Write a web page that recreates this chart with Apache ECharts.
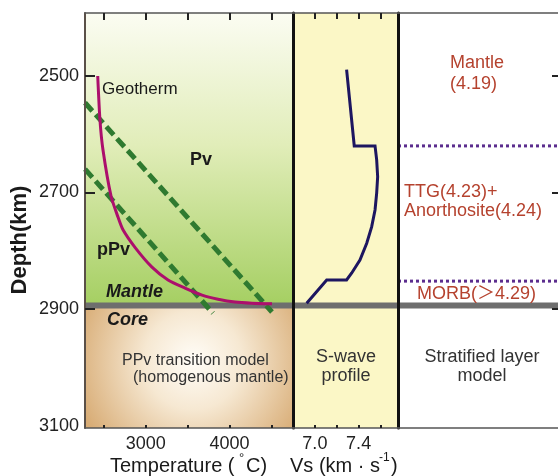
<!DOCTYPE html>
<html>
<head>
<meta charset="utf-8">
<script src="https://cdn.jsdelivr.net/npm/echarts@6/dist/echarts.min.js"></script>
<style>html,body{margin:0;padding:0;background:#fff}#c{width:558px;height:476px}</style>
</head>
<body>
<div id="c"></div>
<script>
// ---- data ----
const tempTicks = [2500, 3000, 3500, 4000, 4500];
const tempLabels = [3000, 4000];
const vsTicks = [7.0, 7.2, 7.4, 7.6];
const vsLabels = [7.0, 7.4];
const depthLabels = [2500, 2700, 2900, 3100];
const depthTickMarks = [2500, 2700, 2900];
const rightTickMarks = [2500, 2700, 2900];

const geothermTemp  = [2425, 2452, 2488, 2584, 2667, 2727, 2870, 3073, 3265, 3468, 3671, 3862, 4065, 4268, 4507];
const geothermDepth = [2500, 2576, 2627, 2706, 2742, 2764, 2794, 2828, 2850, 2864, 2876, 2883, 2888, 2890, 2891];

const pvBoundaryTemp  = [2273, 4507];
const pvBoundaryDepth = [2546, 2905];
const ppvBoundaryTemp  = [2273, 3802];
const ppvBoundaryDepth = [2660, 2907];

const vsValue = [7.29, 7.36, 7.55, 7.565, 7.574, 7.565, 7.55, 7.519, 7.474, 7.412, 7.337, 7.29, 7.108, 6.925];
const vsDepth = [2489, 2620, 2620, 2644, 2673, 2701, 2730, 2759, 2787, 2816, 2838, 2850, 2850, 2890];

const cmbDepth = 2894;
const layerBoundaries = [2620, 2852];

// ---- view ranges ----
const depthMin = 2392, depthMax = 3104;
const tempMin = 2273, tempMax = 4758;
const vsMin = 6.8, vsMax = 7.76;

const FF = 'Liberation Sans, Arial, "Noto Sans CJK SC", sans-serif';
const zip = (a, b) => a.map((v, i) => [v, b[i]]);

const chart = echarts.init(document.getElementById('c'), null, {renderer: 'canvas'});

function xAx(grid, min, max, pos, tickVals, labelVals, tickLen) {
  return {
    gridIndex: grid, type: 'value', min: min, max: max, position: pos, z: 10,
    axisLine: {show: true, onZero: false, lineStyle: {color: '#555', width: 1.5}},
    axisTick: tickVals ? {show: true, inside: true, length: tickLen, customValues: tickVals, lineStyle: {color: '#222', width: 2}} : {show: false},
    axisLabel: labelVals ? {show: true, customValues: labelVals, fontSize: 18, color: '#222', margin: 7, fontFamily: FF,
      formatter: v => (Math.abs(v) < 100 ? v.toFixed(1) : String(v))} : {show: false},
    splitLine: {show: false}
  };
}
function yAx(grid, opts) {
  return Object.assign({
    gridIndex: grid, type: 'value', inverse: true, min: depthMin, max: depthMax, z: 10,
    axisLine: {show: false, onZero: false},
    axisTick: {show: false}, axisLabel: {show: false}, splitLine: {show: false}
  }, opts);
}

const mantleGrad = {type: 'linear', x: 0, y: 0, x2: 0, y2: 1, colorStops: [
  {offset: 0, color: '#fbfcf2'}, {offset: 0.45, color: '#e1edb9'}, {offset: 1, color: '#a5cf62'}]};
const coreGrad = {type: 'radial', x: 0.52, y: 0.45, r: 1.0, colorStops: [
  {offset: 0, color: '#fffdf8'}, {offset: 0.4, color: '#f6e8d2'}, {offset: 1, color: '#d8ac75'}]};

const option = {
  animation: false,
  backgroundColor: '#ffffff',
  grid: [
    {left: 85, top: 13, width: 208, height: 415},
    {left: 293, top: 13, width: 105, height: 415, show: true, backgroundColor: '#fbf7c6', borderWidth: 0},
    {left: 398, top: 13, width: 160, height: 415}
  ],
  xAxis: [
    xAx(0, tempMin, tempMax, 'bottom', tempTicks, tempLabels, 3),
    xAx(0, tempMin, tempMax, 'top', tempTicks, null, 7),
    xAx(1, vsMin, vsMax, 'bottom', vsTicks, vsLabels, 3),
    xAx(1, vsMin, vsMax, 'top', vsTicks, null, 6),
    xAx(2, 0, 1, 'bottom', null, null, 0),
    xAx(2, 0, 1, 'top', null, null, 0)
  ],
  yAxis: [
    yAx(0, {position: 'left',
      axisLine: {show: true, onZero: false, lineStyle: {color: '#5a5048', width: 2}},
      axisTick: {show: true, inside: true, length: 10, customValues: depthTickMarks, lineStyle: {color: '#222', width: 2}},
      axisLabel: {show: true, customValues: depthLabels, fontSize: 18, color: '#222', margin: 6, fontFamily: FF,
        formatter: v => String(v)}}),
    yAx(1, {position: 'left', axisLine: {show: true, onZero: false, lineStyle: {color: '#111', width: 3}}}),
    yAx(2, {position: 'left', axisLine: {show: true, onZero: false, lineStyle: {color: '#111', width: 3}}}),
    yAx(2, {position: 'right',
      axisTick: {show: true, inside: true, length: 6, customValues: rightTickMarks, lineStyle: {color: '#222', width: 2}}})
  ],
  series: [
    {type: 'line', xAxisIndex: 0, yAxisIndex: 0, z: 1, silent: true, showSymbol: false, symbol: 'none',
      data: zip(geothermTemp, geothermDepth), lineStyle: {opacity: 0},
      markArea: {silent: true, data: [
        [{yAxis: depthMin, itemStyle: {color: mantleGrad}}, {yAxis: cmbDepth}],
        [{yAxis: cmbDepth, itemStyle: {color: coreGrad}}, {yAxis: depthMax}]
      ]}},
    {type: 'line', xAxisIndex: 0, yAxisIndex: 0, z: 2, symbol: 'none', silent: true,
      data: [[tempMin, cmbDepth], [tempMax, cmbDepth]], lineStyle: {color: '#6e6e6e', width: 6}},
    {type: 'line', xAxisIndex: 2, yAxisIndex: 1, z: 2, symbol: 'none', silent: true,
      data: [[vsMin, cmbDepth], [vsMax, cmbDepth]], lineStyle: {color: '#6e6e6e', width: 6}},
    {type: 'line', xAxisIndex: 4, yAxisIndex: 2, z: 2, symbol: 'none', silent: true,
      data: [[0, cmbDepth], [1, cmbDepth]], lineStyle: {color: '#6e6e6e', width: 6}},
    {type: 'line', xAxisIndex: 0, yAxisIndex: 0, z: 3, symbol: 'none', silent: true,
      data: zip(pvBoundaryTemp, pvBoundaryDepth), lineStyle: {color: '#2f7a30', width: 5, type: [11, 5]}},
    {type: 'line', xAxisIndex: 0, yAxisIndex: 0, z: 3, symbol: 'none', silent: true,
      data: zip(ppvBoundaryTemp, ppvBoundaryDepth), lineStyle: {color: '#2f7a30', width: 5, type: [11, 5]}},
    {type: 'line', xAxisIndex: 0, yAxisIndex: 0, z: 4, symbol: 'none', silent: true, smooth: 0.25,
      data: zip(geothermTemp, geothermDepth), lineStyle: {color: '#ac0f6c', width: 3}},
    {type: 'line', xAxisIndex: 2, yAxisIndex: 1, z: 4, symbol: 'none', silent: true,
      data: zip(vsValue, vsDepth), lineStyle: {color: '#1d1660', width: 3, join: 'miter'}},
    {type: 'line', xAxisIndex: 4, yAxisIndex: 2, z: 3, symbol: 'none', silent: true,
      data: [[0, layerBoundaries[0]], [1, layerBoundaries[0]]], lineStyle: {color: '#5b2d8e', width: 3, type: [3, 3]}},
    {type: 'line', xAxisIndex: 4, yAxisIndex: 2, z: 3, symbol: 'none', silent: true,
      data: [[0, layerBoundaries[1]], [1, layerBoundaries[1]]], lineStyle: {color: '#5b2d8e', width: 3, type: [3, 3]}}
  ],
  graphic: (function () {
    const t = (text, x, y, o) => ({type: 'text', x: x, y: y, z: 100, silent: true,
      rotation: (o && o.rotation) || 0,
      style: Object.assign({text: text, fontFamily: FF, fontSize: 18, fill: '#1a1a1a', align: 'left', verticalAlign: 'middle'}, o && o.style)});
    const red = '#b5422e';
    return [
      t('Depth(km)', 20, 240, {rotation: Math.PI / 2, style: {fontSize: 22, fontWeight: 'bold', align: 'center'}}),
      t('Temperature (', 110, 466, {style: {fontSize: 20}}),
      t('°', 239, 458, {style: {fontSize: 13}}),
      t('C)', 246, 466, {style: {fontSize: 20}}),
      t('Vs (km · s', 290, 466, {style: {fontSize: 20}}),
      t('-1', 379, 458, {style: {fontSize: 12}}),
      t(')', 391, 466, {style: {fontSize: 20}}),
      t('Geotherm', 102, 89, {style: {fontSize: 17}}),
      t('Pv', 190, 160, {style: {fontWeight: 'bold'}}),
      t('pPv', 97, 250, {style: {fontWeight: 'bold'}}),
      t('Mantle', 106, 292, {style: {fontWeight: 'bold', fontStyle: 'italic'}}),
      t('Core', 107, 320, {style: {fontWeight: 'bold', fontStyle: 'italic'}}),
      t('PPv transition model', 122, 361, {style: {fontSize: 16, fill: '#333'}}),
      t('(homogenous mantle)', 133, 378, {style: {fontSize: 16, fill: '#333'}}),
      t('S-wave', 346, 357, {style: {align: 'center', fill: '#333'}}),
      t('profile', 346, 376, {style: {align: 'center', fill: '#333'}}),
      t('Stratified layer', 482, 357, {style: {align: 'center', fill: '#333'}}),
      t('model', 482, 376, {style: {align: 'center', fill: '#333'}}),
      t('Mantle', 450, 63, {style: {fill: red}}),
      t('(4.19)', 450, 84, {style: {fill: red}}),
      t('TTG(4.23)+', 404, 192, {style: {fill: red}}),
      t('Anorthosite(4.24)', 404, 211, {style: {fill: red}}),
      t('MORB(＞4.29)', 417, 294, {style: {fill: red}})
    ];
  })()
};
chart.setOption(option);
</script>
</body>
</html>
